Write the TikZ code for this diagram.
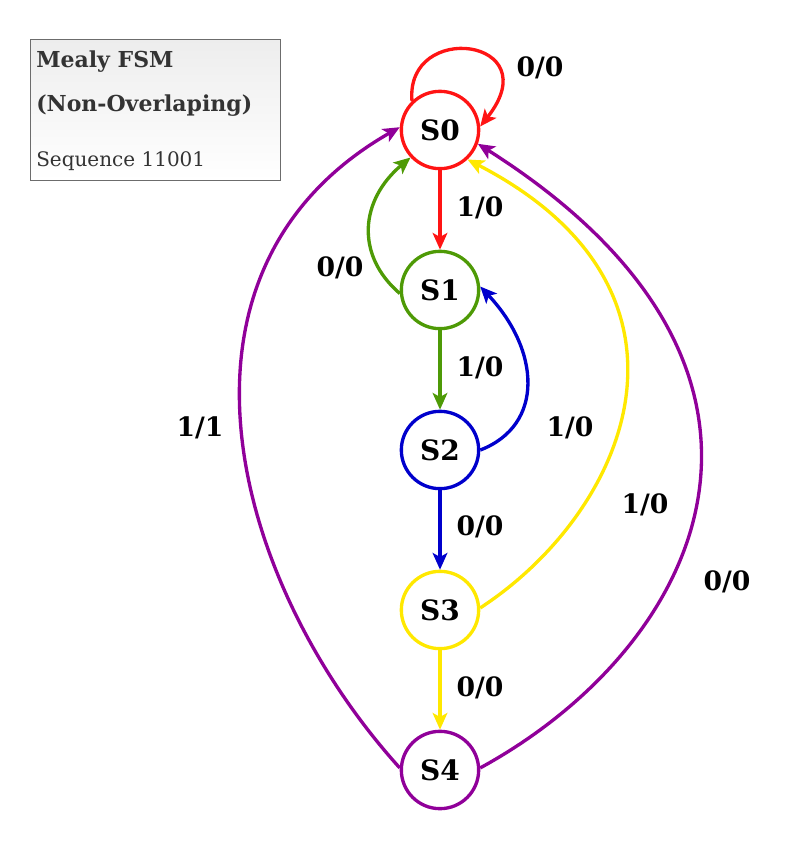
\documentclass[tikz,border=0pt]{standalone}
\usepackage{fontspec}
\setmainfont{DejaVu Serif}
\usepackage{tikz}
\usetikzlibrary{arrows.meta,positioning,shapes}

\definecolor{fsmred}{HTML}{FF1414}
\definecolor{fsmgreen}{HTML}{4E9A06}
\definecolor{fsmblue}{HTML}{0000CC}
\definecolor{fsmyellow}{HTML}{FFE800}
\definecolor{fsmpurple}{HTML}{900099}
\definecolor{boxtext}{HTML}{333333}

\begin{document}
\begin{tikzpicture}[x=0.75pt,y=-0.75pt,
  >={Stealth[length=12.5pt,width=11pt,inset=3pt]},
  state/.style={circle,line width=2.5pt,minimum size=58pt,inner sep=0pt,fill=white,font=\fontsize{21}{24}\selectfont\bfseries},
  trans/.style={line width=2.5pt,->},
  lbl/.style={font=\fontsize{20}{23}\selectfont\bfseries},
  boxline/.style={anchor=base west,inner sep=0pt,text=boxtext}]
  \useasboundingbox (0,0) rectangle (788,842);
% Title box
  \draw[gray!85!black,line width=0.75pt,top color=black!7,bottom color=white] (30,40) rectangle (280,180);
  \node[boxline,font=\fontsize{16.5}{19}\selectfont\bfseries] (title) at (36,68) {Mealy FSM};
  \node[boxline,font=\fontsize{16.5}{19}\selectfont\bfseries] (subtitle) at (36,112) {(Non-Overlaping)};
  \node[boxline,font=\fontsize{15}{18}\selectfont] (seq) at (36,166) {Sequence 11001};
% States
  \node[state,draw=fsmred] (S0) at (440,130) {S0};
  \node[state,draw=fsmgreen] (S1) at (440,290) {S1};
  \node[state,draw=fsmblue] (S2) at (440,450) {S2};
  \node[state,draw=fsmyellow] (S3) at (440,610) {S3};
  \node[state,draw=fsmpurple] (S4) at (440,770) {S4};
% Transitions out of S0
  \draw[trans,fsmred] (S0.134) .. controls (405,20) and (550,38) .. (S0.5);
  \draw[trans,fsmred] (S0) -- (S1);
  \node[lbl] (l00) at (540,68) {0/0};
  \node[lbl] (l01) at (480,208) {1/0};
% S1
  \draw[trans,fsmgreen] (S1.185) .. controls (355,255) and (360,200) .. (S0.223);
  \draw[trans,fsmgreen] (S1) -- (S2);
  \node[lbl] (l10) at (340,268) {0/0};
  \node[lbl] (l11) at (480,368) {1/0};
% S2
  \draw[trans,fsmblue] (S2.0) .. controls (545,425) and (540,350) .. (S1.5);
  \draw[trans,fsmblue] (S2) -- (S3);
  \node[lbl] (l21) at (570,428) {1/0};
  \node[lbl] (l20) at (480,527) {0/0};
% S3
  \draw[trans,fsmyellow] (S3.3) .. controls (630,510) and (720,290) .. (S0.-47);
  \draw[trans,fsmyellow] (S3) -- (S4);
  \node[lbl] (l31) at (645,505) {1/0};
  \node[lbl] (l30) at (480,688) {0/0};
% S4
  \draw[trans,fsmpurple] (S4.3) .. controls (705,645) and (835,370) .. (S0.-20);
  \draw[trans,fsmpurple] (S4.177) .. controls (230,580) and (150,270) .. (S0.176);
  \node[lbl] (l40) at (727,582) {0/0};
  \node[lbl] (l41) at (200,428) {1/1};
\end{tikzpicture}
\end{document}
